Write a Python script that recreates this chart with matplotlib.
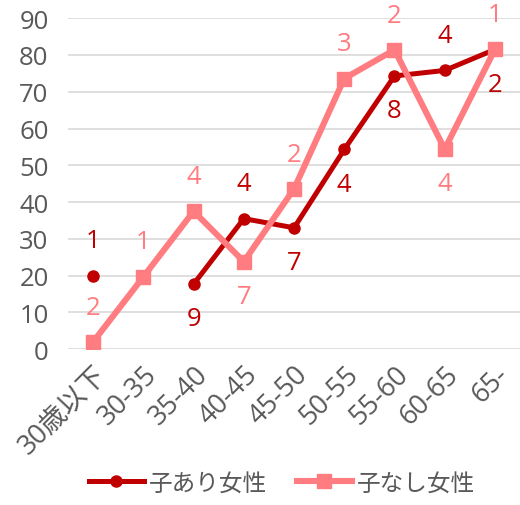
import numpy as np
import matplotlib
matplotlib.use("Agg")
import matplotlib.pyplot as plt

plt.rcParams['font.family'] = ['Open Sans', 'Noto Sans CJK JP', 'DejaVu Sans']

categories = ["30歳以下", "30-35", "35-40", "40-45", "45-50", "50-55", "55-60", "60-65", "65-"]
with_child = [20, np.nan, 17.7, 35.5, 33, 54.3, 74.3, 75.8, 81.5]
without_child = [2, 19.7, 37.5, 23.8, 43.6, 73.6, 81.4, 54.4, 81.5]
with_child_labels = ["1", "", "9", "4", "7", "4", "8", "4", "2"]
without_child_labels = ["2", "1", "4", "7", "2", "3", "2", "4", "1"]
with_child_pos = [1, 0, -1, 1, -1, -1, -1, 1, -1]
without_child_pos = [1, 1, 1, -1, 1, 1, 1, -1, 1]

c_dark = "#C00000"
c_pink = "#FF7C80"
gray = "#595959"

fig = plt.figure(figsize=(5.2, 5.06), dpi=100)
ax = fig.add_axes([0.131, 0.308, 0.869, 0.654])
x = np.arange(len(categories))

ax.plot(x, with_child, color=c_dark, lw=3.6, marker='o', ms=8, label="子あり女性", zorder=2)
ax.plot(x, without_child, color=c_pink, lw=4.4, marker='s', ms=10, label="子なし女性", zorder=3)

for xi, v, lab, p in zip(x, with_child, with_child_labels, with_child_pos):
    if lab and not np.isnan(v):
        ax.annotate(lab, (xi, v), xytext=(0, 25 * p), textcoords='offset points',
                    ha='center', va='center', color=c_dark, fontsize=18.5, zorder=5)
for xi, v, lab, p in zip(x, without_child, without_child_labels, without_child_pos):
    ax.annotate(lab, (xi, v), xytext=(0, 25 * p), textcoords='offset points',
                ha='center', va='center', color=c_pink, fontsize=18.5, zorder=5,
                annotation_clip=False)

ax.set_xlim(-0.5, len(categories) - 0.5)
ax.set_ylim(0, 90)
ax.set_yticks(range(0, 91, 10))
ax.set_xticks(x)
ax.set_xticklabels(categories, rotation=45, ha='right', rotation_mode='anchor')
ax.tick_params(axis='both', length=0, labelsize=18.5, colors=gray)
ax.tick_params(axis='x', labelsize=19.5)
ax.tick_params(axis='y', pad=14)
ax.tick_params(axis='x', pad=8)
ax.grid(axis='y', color='#D9D9D9', lw=1.2)
ax.set_axisbelow(True)
for s in ax.spines.values():
    s.set_visible(False)

leg = fig.legend(loc='center', bbox_to_anchor=(0.542, 0.042), ncol=2, frameon=False,
                 fontsize=17, handlelength=2.35, columnspacing=1.25, handletextpad=0.2)
for t in leg.get_texts():
    t.set_color(gray)

fig.savefig("out.png", dpi=100)
